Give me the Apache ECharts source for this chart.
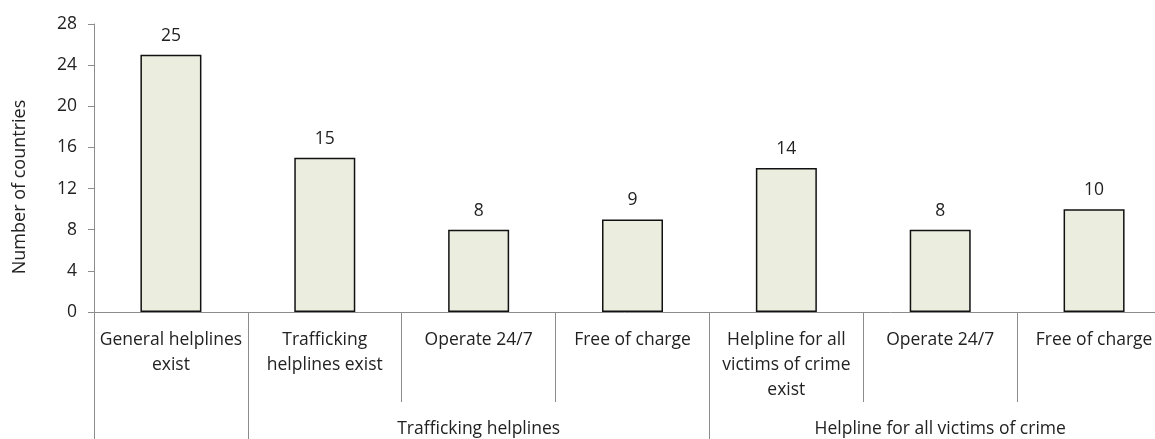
<!DOCTYPE html>
<html>
<head>
<meta charset="utf-8">
<script src="https://cdn.jsdelivr.net/npm/echarts@6/dist/echarts.min.js"></script>
<style>
html,body{margin:0;padding:0;background:#fff;}
#chart{width:1155px;height:439px;}
</style>
</head>
<body>
<div id="chart"></div>
<script>
const categories = [
  'General helplines\nexist',
  'Trafficking\nhelplines exist',
  'Operate 24/7',
  'Free of charge',
  'Helpline for all\nvictims of crime\nexist',
  'Operate 24/7',
  'Free of charge'
];
const values = [25, 15, 8, 9, 14, 8, 10];
const groupLabels = ['', '', 'Trafficking helplines', '', '', 'Helpline for all victims of crime', ''];
const groupStarts = [0, 1, 4];
const yTicks = { min: 0, max: 28, interval: 4 };
const yTitle = 'Number of countries';

const FONT = 'Open Sans';
const FS = 17.5;
const TXT = '#222';
const AX = '#8c8c8c';

const chart = echarts.init(document.getElementById('chart'), null, { renderer: 'canvas' });
chart.setOption({
  animation: false,
  backgroundColor: '#fff',
  grid: { left: 94, top: 24, width: 1077, height: 288, outerBoundsMode: 'none', containLabel: false },
  xAxis: [
    {
      type: 'category',
      data: categories,
      position: 'bottom',
      axisLine: { show: true, lineStyle: { color: AX, width: 1 } },
      axisTick: { show: true, inside: false, length: 90, interval: 0, lineStyle: { color: AX, width: 1 } },
      axisLabel: {
        interval: 0, margin: 16, color: TXT, fontFamily: FONT, fontSize: FS, lineHeight: 25,
        align: 'center', verticalAlign: 'top', hideOverlap: false
      },
      splitLine: { show: false }
    },
    {
      type: 'category',
      data: groupLabels,
      position: 'bottom',
      gridIndex: 0,
      axisLine: { show: false },
      axisTick: {
        show: true, length: 127,
        interval: function (i) { return groupStarts.indexOf(i) >= 0; },
        lineStyle: { color: AX, width: 1 }
      },
      axisLabel: {
        interval: 0, margin: 108, color: TXT, fontFamily: FONT, fontSize: FS,
        verticalAlign: 'top', hideOverlap: false
      },
      splitLine: { show: false }
    }
  ],
  yAxis: {
    type: 'value',
    min: yTicks.min, max: yTicks.max, interval: yTicks.interval,
    axisLine: { show: true, lineStyle: { color: AX, width: 1 } },
    axisTick: { show: true, length: 6, lineStyle: { color: AX } },
    axisLabel: { margin: 17, color: TXT, fontFamily: FONT, fontSize: FS },
    splitLine: { show: false }
  },
  graphic: [{
    type: 'text',
    rotation: Math.PI / 2,
    x: 20, y: 187,
    style: { text: yTitle, fontFamily: FONT, fontSize: 18, fill: TXT, align: 'center', verticalAlign: 'middle' }
  }],
  series: [{
    type: 'bar',
    data: values,
    barWidth: 61,
    itemStyle: { color: '#ebeedf', borderColor: '#111', borderWidth: 1.5 },
    label: { show: true, position: 'top', distance: 10, color: TXT, fontFamily: FONT, fontSize: FS }
  }]
});
</script>
</body>
</html>
